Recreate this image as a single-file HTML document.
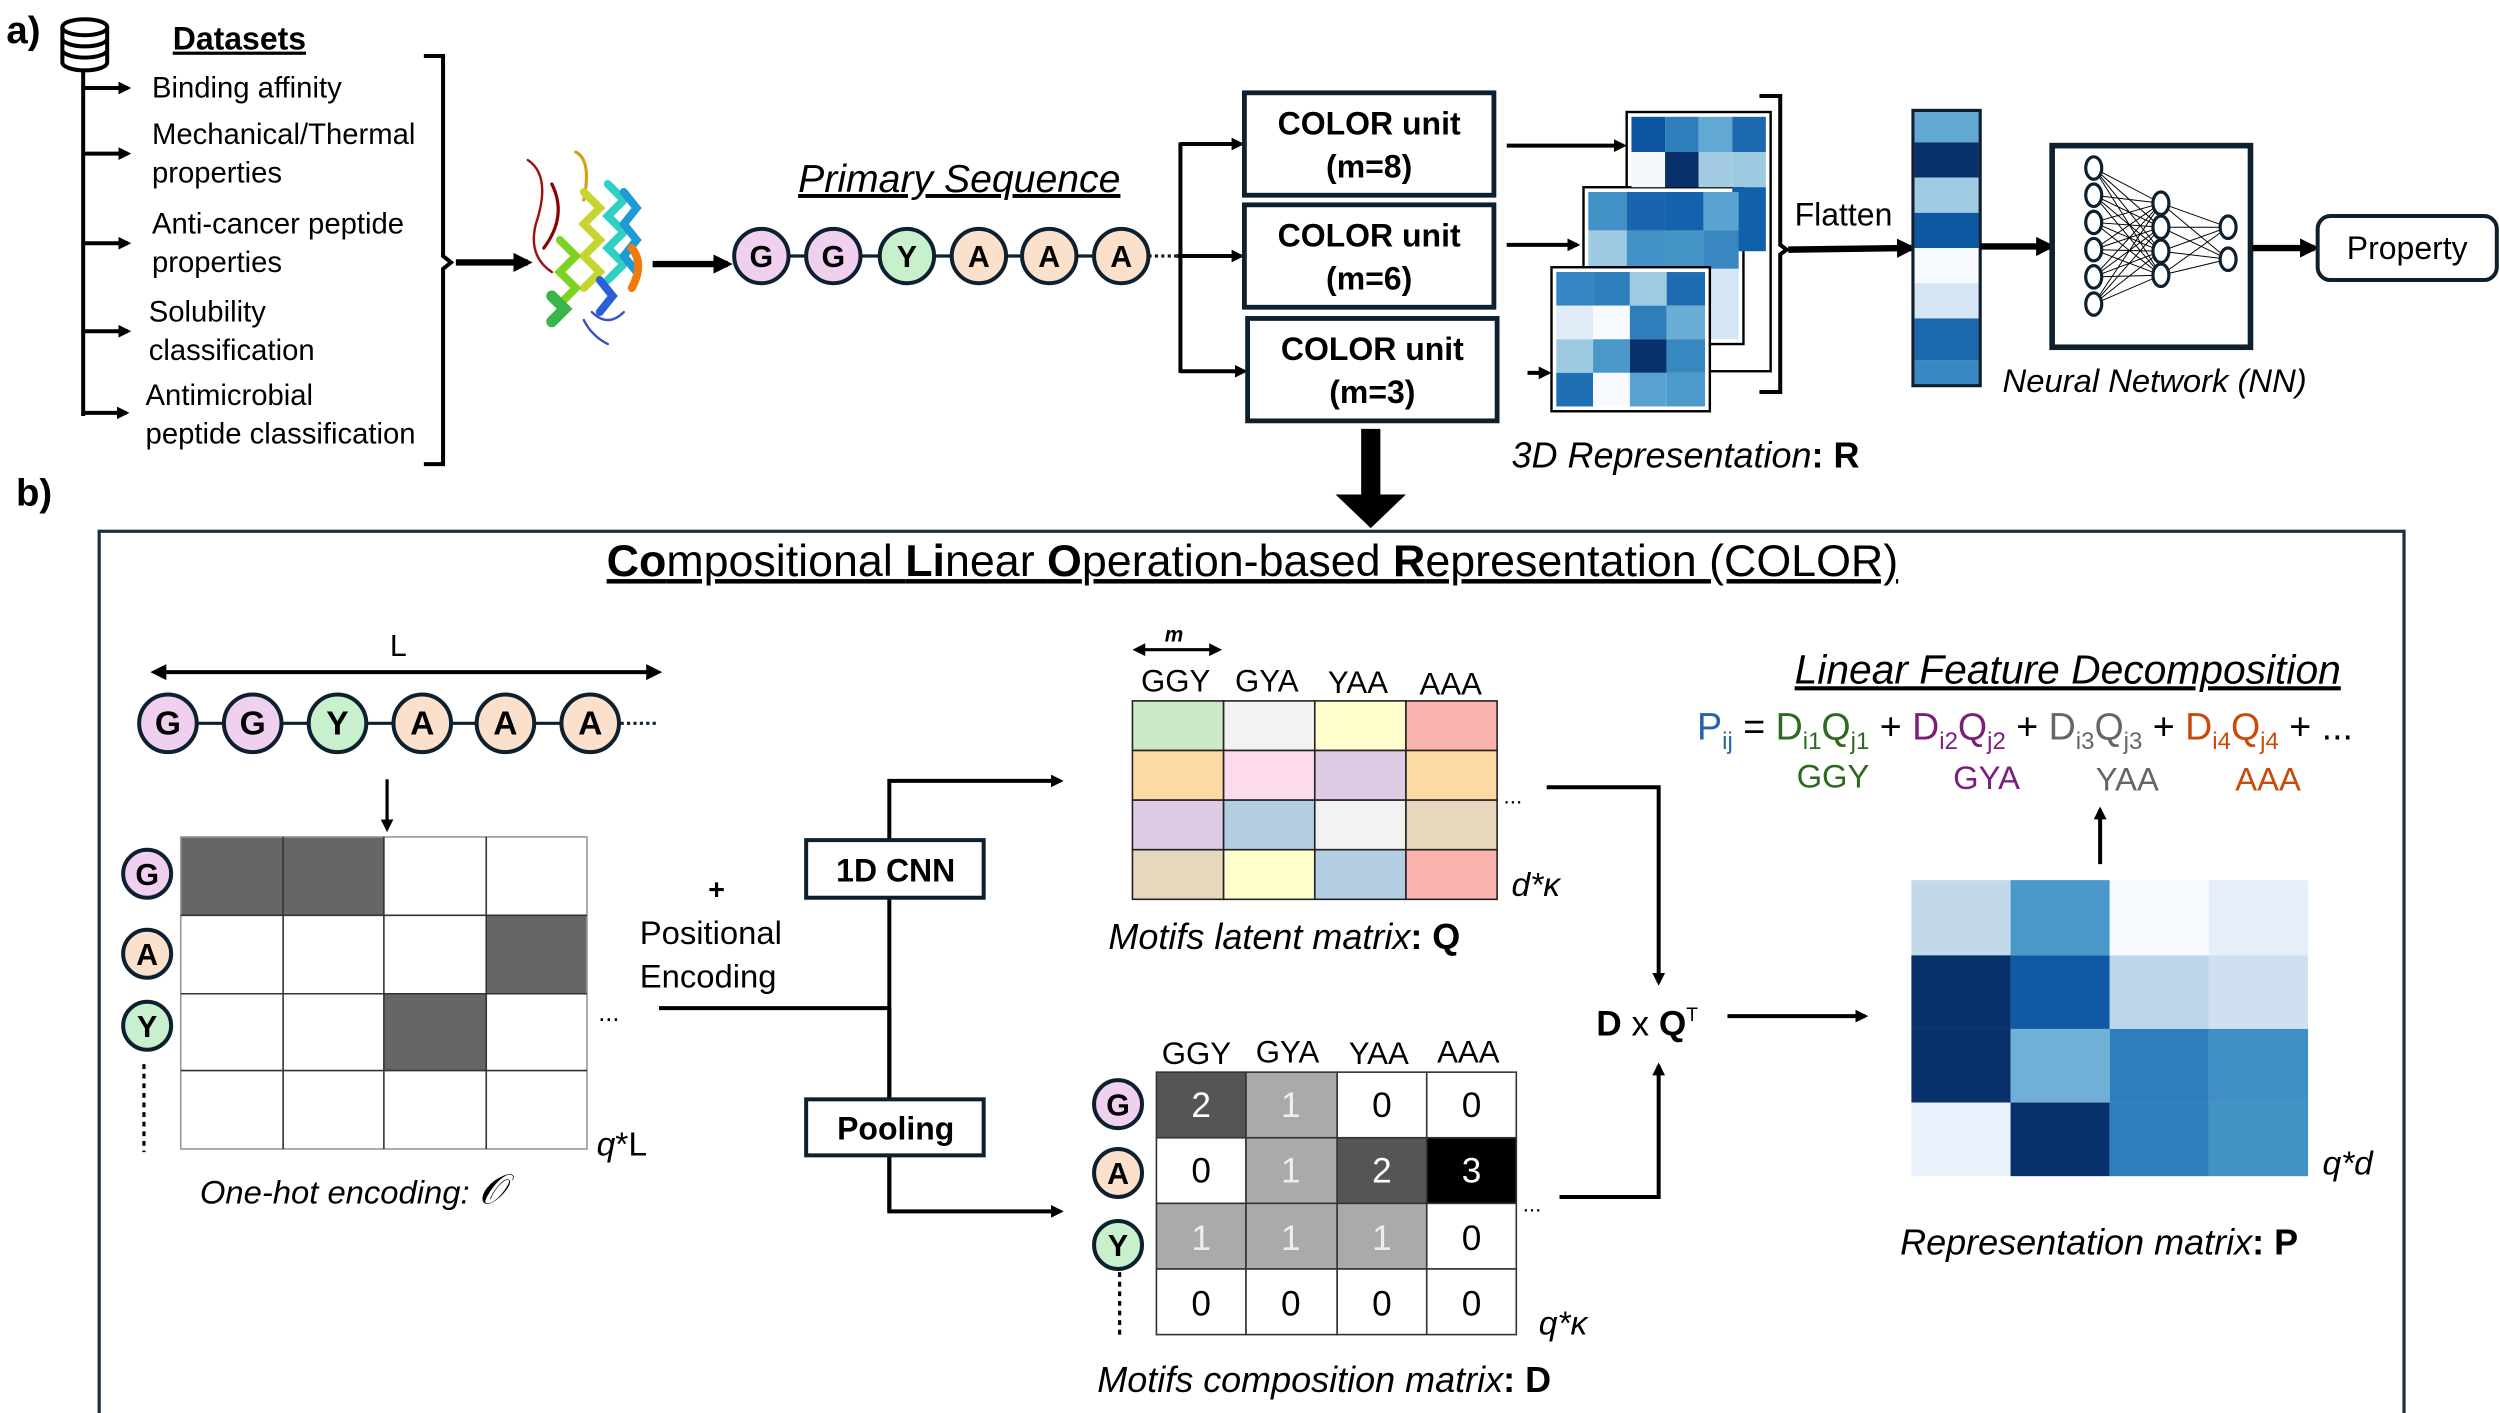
<!DOCTYPE html>
<html><head><meta charset="utf-8"><style>
html,body{margin:0;padding:0;background:#fff;}
svg{display:block;}
text{font-family:"Liberation Sans",sans-serif;}
.it{font-style:italic;}
.b{font-weight:bold;}
</style></head><body>
<svg width="2500" height="1413" viewBox="0 0 1563 883" preserveAspectRatio="none" xmlns="http://www.w3.org/2000/svg">
<defs>
<marker id="ah" markerWidth="8" markerHeight="8" refX="6" refY="4" orient="auto" markerUnits="userSpaceOnUse"><path d="M0,0 L8,4 L0,8 z" fill="#000"/></marker>
<marker id="ahb" markerWidth="12" markerHeight="12" refX="9" refY="6" orient="auto" markerUnits="userSpaceOnUse"><path d="M0,0 L12,6 L0,12 z" fill="#000"/></marker>
</defs>

<!-- PART A -->
<text x="4" y="27" class="b" font-size="24">a)</text>
<g fill="#fff" stroke="#000" stroke-width="2.5">
<path d="M39,17 v22 a14,5 0 0 0 28,0 v-22"/>
<path d="M39,24 a14,5 0 0 0 28,0"/>
<path d="M39,31 a14,5 0 0 0 28,0"/>
<ellipse cx="53" cy="17" rx="14" ry="5"/>
</g>
<text x="108" y="31" class="b" font-size="20" text-decoration="underline">Datasets</text>
<line x1="52" y1="43" x2="52" y2="260" stroke="#000" stroke-width="2.5"/>
<g stroke="#000" stroke-width="2.5" marker-end="url(#ah)">
<line x1="52" y1="55" x2="80" y2="55"/><line x1="52" y1="96" x2="80" y2="96"/>
<line x1="52" y1="152" x2="80" y2="152"/><line x1="52" y1="207" x2="80" y2="207"/>
<line x1="52" y1="258" x2="79" y2="258"/>
</g>
<g font-size="18.3">
<text x="95" y="61">Binding affinity</text>
<text x="95" y="90">Mechanical/Thermal</text>
<text x="95" y="114">properties</text>
<text x="95" y="146">Anti-cancer peptide</text>
<text x="95" y="170">properties</text>
<text x="93" y="201">Solubility</text>
<text x="93" y="225">classification</text>
<text x="91" y="253">Antimicrobial</text>
<text x="91" y="277">peptide classification</text>
</g>
<path d="M265,35 h12 v125 l5,4 l-5,4 v122 h-12" fill="none" stroke="#000" stroke-width="2.5"/>
<line x1="285" y1="164" x2="330" y2="164" stroke="#000" stroke-width="4" marker-end="url(#ahb)"/>
<!-- protein -->
<g fill="none" stroke-width="5" stroke-linecap="round">
<path d="M345,115 q10,20 -5,40" stroke="#8b0000" stroke-width="2"/>
<path d="M330,100 q15,10 5,40 q-5,20 10,30" stroke="#a01010" stroke-width="1.5"/>
<path d="M360,95 q10,5 5,30" stroke="#d4a017" stroke-width="2"/>
<path d="M365,120 l10,10 l-10,10 l10,10 l-10,10 l10,10 l-10,10" stroke="#c6d630"/>
<path d="M350,150 l10,10 l-10,10 l10,10 l-10,10" stroke="#7ed321"/>
<path d="M380,115 l10,10 l-10,10 l10,10 l-10,10 l10,10 l-10,10" stroke="#2ecfc4"/>
<path d="M390,120 l8,10 l-8,10 l8,10 l-8,10 l8,10" stroke="#1e9bd7"/>
<path d="M395,155 q8,10 0,25" stroke="#f07a10"/>
<path d="M375,175 l8,10 l-8,10" stroke="#2b5fd9"/>
<path d="M345,185 l8,8 l-8,8" stroke="#3ab54a" stroke-width="7"/>
<path d="M370,195 q10,10 20,0 M365,200 q5,10 15,15" stroke="#4050c0" stroke-width="1.5"/>
</g>
<line x1="408" y1="165" x2="455" y2="165" stroke="#000" stroke-width="4" marker-end="url(#ahb)"/>
<text x="499" y="120" class="it" font-size="24.5" text-decoration="underline">Primary Sequence</text>
<line x1="476" y1="160" x2="701" y2="160" stroke="#0d2030" stroke-width="2"/>
<line x1="718" y1="160" x2="736" y2="160" stroke="#0d2030" stroke-width="2" stroke-dasharray="2,2"/>
<g stroke="#0d2030" stroke-width="2.5">
<circle cx="476" cy="160" r="17" fill="#f0d0ef"/><circle cx="521" cy="160" r="17" fill="#f0d0ef"/>
<circle cx="567" cy="160" r="17" fill="#c8f0cc"/><circle cx="612" cy="160" r="17" fill="#fbe0cc"/>
<circle cx="656" cy="160" r="17" fill="#fbe0cc"/><circle cx="701" cy="160" r="17" fill="#fbe0cc"/>
</g>
<g class="b" font-size="19" text-anchor="middle">
<text x="476" y="167">G</text><text x="521" y="167">G</text><text x="567" y="167">Y</text>
<text x="612" y="167">A</text><text x="656" y="167">A</text><text x="701" y="167">A</text>
</g>
<line x1="738" y1="89" x2="738" y2="233" stroke="#000" stroke-width="2.5"/>
<g stroke="#000" stroke-width="2.5" marker-end="url(#ah)">
<line x1="738" y1="90" x2="776" y2="90"/><line x1="736" y1="160" x2="776" y2="160"/><line x1="738" y1="232" x2="778" y2="232"/>
</g>
<g fill="#fff" stroke="#0d2030" stroke-width="3">
<rect x="778" y="58" width="156" height="64"/><rect x="778" y="128" width="156" height="64"/><rect x="780" y="199" width="156" height="64"/>
</g>
<g class="b" font-size="20" text-anchor="middle">
<text x="856" y="84">COLOR unit</text><text x="856" y="111">(m=8)</text>
<text x="856" y="154">COLOR unit</text><text x="856" y="181">(m=6)</text>
<text x="858" y="225">COLOR unit</text><text x="858" y="252">(m=3)</text>
</g>
<g stroke="#000" stroke-width="2.5" marker-end="url(#ah)">
<line x1="942" y1="91" x2="1015" y2="91"/><line x1="942" y1="153" x2="986" y2="153"/><line x1="955" y1="233" x2="968" y2="233"/>
</g>
<!-- matrices -->
<g stroke="#000" stroke-width="1.5">
<rect x="1017" y="70" width="90" height="162" fill="#fff" stroke-width="1.5"/>
<rect x="990" y="117" width="100" height="98" fill="#fff"/>
</g>
<g>
<rect x="1020" y="73" width="21" height="22" fill="#0a54a0"/><rect x="1041" y="73" width="21" height="22" fill="#2f7ebc"/><rect x="1062" y="73" width="21" height="22" fill="#62a8d4"/><rect x="1083" y="73" width="21" height="22" fill="#1c68af"/>
<rect x="1020" y="95" width="21" height="22" fill="#f4f8fd"/><rect x="1041" y="95" width="21" height="22" fill="#08306b"/><rect x="1062" y="95" width="21" height="22" fill="#a3cbe2"/><rect x="1083" y="95" width="21" height="22" fill="#9ecae1"/>
<rect x="1083" y="117" width="21" height="40" fill="#1060aa"/>
<rect x="993" y="120" width="24" height="24" fill="#4191c6"/><rect x="1017" y="120" width="24" height="24" fill="#1a64ad"/><rect x="1041" y="120" width="24" height="24" fill="#1462ad"/><rect x="1065" y="120" width="22" height="24" fill="#5aa2d0"/>
<rect x="993" y="144" width="24" height="24" fill="#9ecae1"/><rect x="1017" y="144" width="24" height="24" fill="#4191c6"/><rect x="1041" y="144" width="24" height="24" fill="#4594c8"/><rect x="1065" y="144" width="22" height="24" fill="#3a86c0"/>
<rect x="1065" y="168" width="22" height="44" fill="#d6e6f4"/>
</g>
<rect x="970" y="167" width="99" height="90" fill="#fff" stroke="#000" stroke-width="1.5"/>
<g>
<rect x="973" y="170" width="23" height="21" fill="#3585c2"/><rect x="996" y="170" width="23" height="21" fill="#2f7ebc"/><rect x="1019" y="170" width="23" height="21" fill="#9fcae1"/><rect x="1042" y="170" width="24" height="21" fill="#1e6db2"/>
<rect x="973" y="191" width="23" height="21" fill="#e1ecf8"/><rect x="996" y="191" width="23" height="21" fill="#f7fbff"/><rect x="1019" y="191" width="23" height="21" fill="#2e7ebc"/><rect x="1042" y="191" width="24" height="21" fill="#6aaed6"/>
<rect x="973" y="212" width="23" height="21" fill="#9ecae1"/><rect x="996" y="212" width="23" height="21" fill="#4a98c9"/><rect x="1019" y="212" width="23" height="21" fill="#08306b"/><rect x="1042" y="212" width="24" height="21" fill="#3787c0"/>
<rect x="973" y="233" width="23" height="21" fill="#1f6fb3"/><rect x="996" y="233" width="23" height="21" fill="#f7fbff"/><rect x="1019" y="233" width="23" height="21" fill="#5aa2cf"/><rect x="1042" y="233" width="24" height="21" fill="#4c9acb"/>
</g>
<path d="M1100,60 h13 v93 l4,3 l-4,3 v86 h-13" fill="none" stroke="#000" stroke-width="2.5"/>
<text x="1122" y="141" font-size="20">Flatten</text>
<line x1="1118" y1="156" x2="1195" y2="155" stroke="#000" stroke-width="4" marker-end="url(#ahb)"/>
<rect x="1196" y="69" width="42" height="172" fill="#fff" stroke="#0d2030" stroke-width="2"/>
<g>
<rect x="1197" y="70" width="40" height="19" fill="#62a8d4"/><rect x="1197" y="89" width="40" height="22" fill="#08306b"/>
<rect x="1197" y="111" width="40" height="22" fill="#9fcae1"/><rect x="1197" y="133" width="40" height="22" fill="#0e58a2"/>
<rect x="1197" y="155" width="40" height="22" fill="#f7fbff"/><rect x="1197" y="177" width="40" height="22" fill="#d6e6f4"/>
<rect x="1197" y="199" width="40" height="26" fill="#1c68af"/><rect x="1197" y="225" width="40" height="15" fill="#3a88c2"/>
</g>
<line x1="1238" y1="154" x2="1282" y2="154" stroke="#000" stroke-width="4" marker-end="url(#ahb)"/>
<rect x="1283" y="91" width="124" height="126" fill="#fff" stroke="#0d2030" stroke-width="3.5"/>
<g stroke="#000" stroke-width="0.6">
<path d="M1309,105 L1351,127 M1309,105 L1351,142 M1309,105 L1351,157 M1309,105 L1351,172
M1309,122 L1351,127 M1309,122 L1351,142 M1309,122 L1351,157 M1309,122 L1351,172
M1309,139 L1351,127 M1309,139 L1351,142 M1309,139 L1351,157 M1309,139 L1351,172
M1309,156 L1351,127 M1309,156 L1351,142 M1309,156 L1351,157 M1309,156 L1351,172
M1309,173 L1351,127 M1309,173 L1351,142 M1309,173 L1351,157 M1309,173 L1351,172
M1309,190 L1351,127 M1309,190 L1351,142 M1309,190 L1351,157 M1309,190 L1351,172
M1351,127 L1393,142 M1351,127 L1393,162 M1351,142 L1393,142 M1351,142 L1393,162 M1351,157 L1393,142 M1351,157 L1393,162 M1351,172 L1393,142 M1351,172 L1393,162"/>
</g>
<g fill="#fff" stroke="#0d2030" stroke-width="2">
<ellipse cx="1309" cy="105" rx="5" ry="7"/><ellipse cx="1309" cy="122" rx="5" ry="7"/><ellipse cx="1309" cy="139" rx="5" ry="7"/><ellipse cx="1309" cy="156" rx="5" ry="7"/><ellipse cx="1309" cy="173" rx="5" ry="7"/><ellipse cx="1309" cy="190" rx="5" ry="7"/>
<ellipse cx="1351" cy="127" rx="5" ry="7"/><ellipse cx="1351" cy="142" rx="5" ry="7"/><ellipse cx="1351" cy="157" rx="5" ry="7"/><ellipse cx="1351" cy="172" rx="5" ry="7"/>
<ellipse cx="1393" cy="142" rx="5" ry="7"/><ellipse cx="1393" cy="162" rx="5" ry="7"/>
</g>
<line x1="1408" y1="155" x2="1447" y2="155" stroke="#000" stroke-width="4" marker-end="url(#ahb)"/>
<rect x="1449" y="135" width="112" height="40" rx="8" fill="#fff" stroke="#0d2030" stroke-width="2.5"/>
<text x="1505" y="162" font-size="20" text-anchor="middle">Property</text>
<text x="1252" y="245" class="it" font-size="20.5">Neural Network (NN)</text>
<text x="945" y="292" class="it" font-size="22.5">3D Representation<tspan font-style="normal" font-weight="bold">: R</tspan></text>
<rect x="851" y="268" width="12" height="42" fill="#000"/>
<path d="M835,309 L879,309 L857,330 z" fill="#000"/>
<text x="10" y="316" class="b" font-size="24">b)</text>

<!-- PART B -->
<rect x="62" y="332" width="1441" height="552" fill="none" stroke="#1a3040" stroke-width="2"/>
<text x="783" y="360" font-size="28" text-anchor="middle" text-decoration="underline"><tspan font-weight="bold">Co</tspan>mpositional <tspan font-weight="bold">Li</tspan>near <tspan font-weight="bold">O</tspan>peration-based <tspan font-weight="bold">R</tspan>epresentation (COLOR)</text>
<text x="249" y="410" font-size="19" text-anchor="middle">L</text>
<line x1="100" y1="420" x2="407" y2="420" stroke="#000" stroke-width="2.5"/>
<path d="M94,420 L104,415 L104,425 z M414,420 L404,415 L404,425 z" fill="#000"/>
<line x1="105" y1="452" x2="369" y2="452" stroke="#0d2030" stroke-width="2"/>
<line x1="388" y1="452" x2="410" y2="452" stroke="#0d2030" stroke-width="2" stroke-dasharray="2,2"/>
<g stroke="#0d2030" stroke-width="2.5">
<circle cx="105" cy="452" r="18" fill="#f0d0ef"/><circle cx="158" cy="452" r="18" fill="#f0d0ef"/>
<circle cx="211" cy="452" r="18" fill="#c8f0cc"/><circle cx="264" cy="452" r="18" fill="#fbe0cc"/>
<circle cx="316" cy="452" r="18" fill="#fbe0cc"/><circle cx="369" cy="452" r="18" fill="#fbe0cc"/>
</g>
<g class="b" font-size="21" text-anchor="middle">
<text x="105" y="459">G</text><text x="158" y="459">G</text><text x="211" y="459">Y</text>
<text x="264" y="459">A</text><text x="316" y="459">A</text><text x="369" y="459">A</text>
</g>
<line x1="242" y1="487" x2="242" y2="518" stroke="#000" stroke-width="2" marker-end="url(#ah)"/>
<!-- one-hot grid -->
<g fill="#666">
<rect x="113" y="523" width="64" height="49"/><rect x="177" y="523" width="63" height="49"/>
<rect x="304" y="572" width="63" height="49"/><rect x="240" y="621" width="64" height="48"/>
</g>
<g stroke="#333" stroke-width="1" fill="none">
<rect x="113" y="523" width="254" height="195" stroke="#999"/>
<line x1="177" y1="523" x2="177" y2="718"/><line x1="240" y1="523" x2="240" y2="718"/><line x1="304" y1="523" x2="304" y2="718"/>
<line x1="113" y1="572" x2="367" y2="572"/><line x1="113" y1="621" x2="367" y2="621"/><line x1="113" y1="669" x2="367" y2="669"/>
</g>
<g stroke="#0d2030" stroke-width="2.5">
<circle cx="92" cy="546" r="15" fill="#f0d0ef"/><circle cx="92" cy="596" r="15" fill="#fbe0cc"/><circle cx="92" cy="641" r="15" fill="#c8f0cc"/>
</g>
<g class="b" font-size="19" text-anchor="middle">
<text x="92" y="553">G</text><text x="92" y="603">A</text><text x="92" y="648">Y</text>
</g>
<line x1="90" y1="665" x2="90" y2="720" stroke="#000" stroke-width="2" stroke-dasharray="3,3"/>
<text x="374" y="638" font-size="16">...</text>
<text x="373" y="722" font-size="21"><tspan class="it">q</tspan>*L</text>
<text x="125" y="752" class="it" font-size="20.5">One-hot encoding:  <tspan font-family="Liberation Serif" font-size="26">𝒪</tspan></text>
<text x="448" y="562" class="b" font-size="18" text-anchor="middle">+</text>
<text x="400" y="590" font-size="20.5">Positional</text>
<text x="400" y="617" font-size="20.5">Encoding</text>
<line x1="412" y1="630" x2="556" y2="630" stroke="#000" stroke-width="2.5"/>
<path d="M556,757 V488 H663" fill="none" stroke="#000" stroke-width="2.5" marker-end="url(#ah)"/>
<path d="M556,630 V757 H663" fill="none" stroke="#000" stroke-width="2.5" marker-end="url(#ah)"/>
<rect x="504" y="525" width="111" height="36" fill="#fff" stroke="#0d2030" stroke-width="2.5"/>
<rect x="504" y="687" width="111" height="35" fill="#fff" stroke="#0d2030" stroke-width="2.5"/>
<text x="560" y="551" class="b" font-size="20" text-anchor="middle">1D CNN</text>
<text x="560" y="712" class="b" font-size="20" text-anchor="middle">Pooling</text>
<!-- Q matrix -->
<line x1="714" y1="406" x2="758" y2="406" stroke="#000" stroke-width="2"/>
<path d="M708,406 L716,402 L716,410 z M764,406 L756,402 L756,410 z" fill="#000"/>
<text x="734" y="401" class="it b" font-size="13" text-anchor="middle">m</text>
<g font-size="19.5" text-anchor="middle">
<text x="735" y="432">GGY</text><text x="792" y="432">GYA</text><text x="849" y="433">YAA</text><text x="907" y="434">AAA</text>
</g>
<g stroke="#222" stroke-width="1">
<rect x="708" y="438" width="57" height="31" fill="#cce9c8"/><rect x="765" y="438" width="57" height="31" fill="#f2f2f2"/><rect x="822" y="438" width="57" height="31" fill="#fffecc"/><rect x="879" y="438" width="57" height="31" fill="#fab4ae"/>
<rect x="708" y="469" width="57" height="31" fill="#fdd9a6"/><rect x="765" y="469" width="57" height="31" fill="#fddaec"/><rect x="822" y="469" width="57" height="31" fill="#decbe4"/><rect x="879" y="469" width="57" height="31" fill="#fdd9a6"/>
<rect x="708" y="500" width="57" height="31" fill="#decbe4"/><rect x="765" y="500" width="57" height="31" fill="#b3cde3"/><rect x="822" y="500" width="57" height="31" fill="#f2f2f2"/><rect x="879" y="500" width="57" height="31" fill="#e5d8bd"/>
<rect x="708" y="531" width="57" height="31" fill="#e5d8bd"/><rect x="765" y="531" width="57" height="31" fill="#fffecc"/><rect x="822" y="531" width="57" height="31" fill="#b3cde3"/><rect x="879" y="531" width="57" height="31" fill="#fab4ae"/>
</g>
<text x="940" y="502" font-size="14">...</text>
<text x="945" y="560" class="it" font-size="21">d*κ</text>
<text x="693" y="593" class="it" font-size="22.5">Motifs latent matrix<tspan font-style="normal" font-weight="bold">: Q</tspan></text>
<path d="M967,492 H1037 V614" fill="none" stroke="#000" stroke-width="2.5" marker-end="url(#ah)"/>
<path d="M975,748 H1037 V666" fill="none" stroke="#000" stroke-width="2.5" marker-end="url(#ah)"/>
<text x="998" y="647" font-size="22"><tspan font-weight="bold">D</tspan> x <tspan font-weight="bold">Q</tspan><tspan font-size="12" dy="-9">T</tspan></text>
<line x1="1080" y1="635" x2="1166" y2="635" stroke="#000" stroke-width="2.5" marker-end="url(#ah)"/>
<!-- D matrix -->
<g font-size="19.5" text-anchor="middle">
<text x="748" y="665">GGY</text><text x="805" y="664">GYA</text><text x="862" y="665">YAA</text><text x="918" y="664">AAA</text>
</g>
<g stroke="#333" stroke-width="1">
<rect x="723" y="670" width="56" height="41" fill="#555"/><rect x="779" y="670" width="57" height="41" fill="#aaa"/><rect x="836" y="670" width="56" height="41" fill="#fff"/><rect x="892" y="670" width="56" height="41" fill="#fff"/>
<rect x="723" y="711" width="56" height="41" fill="#fff"/><rect x="779" y="711" width="57" height="41" fill="#aaa"/><rect x="836" y="711" width="56" height="41" fill="#555"/><rect x="892" y="711" width="56" height="41" fill="#000"/>
<rect x="723" y="752" width="56" height="41" fill="#aaa"/><rect x="779" y="752" width="57" height="41" fill="#aaa"/><rect x="836" y="752" width="56" height="41" fill="#aaa"/><rect x="892" y="752" width="56" height="41" fill="#fff"/>
<rect x="723" y="793" width="56" height="41" fill="#fff"/><rect x="779" y="793" width="57" height="41" fill="#fff"/><rect x="836" y="793" width="56" height="41" fill="#fff"/><rect x="892" y="793" width="56" height="41" fill="#fff"/>
</g>
<g font-size="22" text-anchor="middle">
<text x="751" y="698" fill="#fff">2</text><text x="807" y="698" fill="#eee">1</text><text x="864" y="698">0</text><text x="920" y="698">0</text>
<text x="751" y="739">0</text><text x="807" y="739" fill="#eee">1</text><text x="864" y="739" fill="#fff">2</text><text x="920" y="739" fill="#fff">3</text>
<text x="751" y="781" fill="#eee">1</text><text x="807" y="781" fill="#eee">1</text><text x="864" y="781" fill="#eee">1</text><text x="920" y="781">0</text>
<text x="751" y="822">0</text><text x="807" y="822">0</text><text x="864" y="822">0</text><text x="920" y="822">0</text>
</g>
<g stroke="#0d2030" stroke-width="2.5">
<circle cx="699" cy="690" r="15" fill="#f0d0ef"/><circle cx="699" cy="733" r="15" fill="#fbe0cc"/><circle cx="699" cy="778" r="15" fill="#c8f0cc"/>
</g>
<g class="b" font-size="19" text-anchor="middle">
<text x="699" y="697">G</text><text x="699" y="740">A</text><text x="699" y="785">Y</text>
</g>
<line x1="700" y1="795" x2="700" y2="835" stroke="#000" stroke-width="2" stroke-dasharray="3,3"/>
<text x="952" y="757" font-size="14">...</text>
<text x="962" y="834" class="it" font-size="21">q*κ</text>
<text x="686" y="870" class="it" font-size="22.5">Motifs composition matrix<tspan font-style="normal" font-weight="bold">: D</tspan></text>
<!-- P matrix -->
<g>
<rect x="1195" y="550" width="62" height="47" fill="#c2d9ec"/><rect x="1257" y="550" width="62" height="47" fill="#4a98c9"/><rect x="1319" y="550" width="62" height="47" fill="#f6faff"/><rect x="1381" y="550" width="62" height="47" fill="#e6eff9"/>
<rect x="1195" y="597" width="62" height="46" fill="#08306b"/><rect x="1257" y="597" width="62" height="46" fill="#1059a5"/><rect x="1319" y="597" width="62" height="46" fill="#bcd7eb"/><rect x="1381" y="597" width="62" height="46" fill="#cfe0f1"/>
<rect x="1195" y="643" width="62" height="46" fill="#08306b"/><rect x="1257" y="643" width="62" height="46" fill="#70afd6"/><rect x="1319" y="643" width="62" height="46" fill="#2f7ebc"/><rect x="1381" y="643" width="62" height="46" fill="#4090c5"/>
<rect x="1195" y="689" width="62" height="46" fill="#eaf2fb"/><rect x="1257" y="689" width="62" height="46" fill="#08306b"/><rect x="1319" y="689" width="62" height="46" fill="#2f7ebc"/><rect x="1381" y="689" width="62" height="46" fill="#4292c6"/>
</g>
<text x="1452" y="734" class="it" font-size="21">q*d</text>
<text x="1188" y="784" class="it" font-size="22.5">Representation matrix<tspan font-style="normal" font-weight="bold">: P</tspan></text>
<line x1="1313" y1="540" x2="1313" y2="506" stroke="#000" stroke-width="2.5" marker-end="url(#ah)"/>
<text x="1122" y="427" class="it" font-size="25.5" text-decoration="underline">Linear Feature Decomposition</text>
<text x="1061" y="462" font-size="23.5"><tspan fill="#2166ac">P<tspan font-size="15" dy="6">ij</tspan></tspan><tspan dy="-6"> = </tspan><tspan fill="#2d6a1f">D<tspan font-size="15" dy="6">i1</tspan><tspan dy="-6">Q</tspan><tspan font-size="15" dy="6">j1</tspan></tspan><tspan dy="-6"> + </tspan><tspan fill="#7b1f7a">D<tspan font-size="15" dy="6">i2</tspan><tspan dy="-6">Q</tspan><tspan font-size="15" dy="6">j2</tspan></tspan><tspan dy="-6"> + </tspan><tspan fill="#666">D<tspan font-size="15" dy="6">i3</tspan><tspan dy="-6">Q</tspan><tspan font-size="15" dy="6">j3</tspan></tspan><tspan dy="-6"> + </tspan><tspan fill="#c84b0c">D<tspan font-size="15" dy="6">i4</tspan><tspan dy="-6">Q</tspan><tspan font-size="15" dy="6">j4</tspan></tspan><tspan dy="-6"> + ...</tspan></text>
<g font-size="20.5" text-anchor="middle">
<text x="1146" y="492" fill="#2d6a1f">GGY</text><text x="1242" y="493" fill="#7b1f7a">GYA</text>
<text x="1330" y="494" fill="#666">YAA</text><text x="1418" y="494" fill="#c84b0c">AAA</text>
</g>
</svg>
</body></html>
